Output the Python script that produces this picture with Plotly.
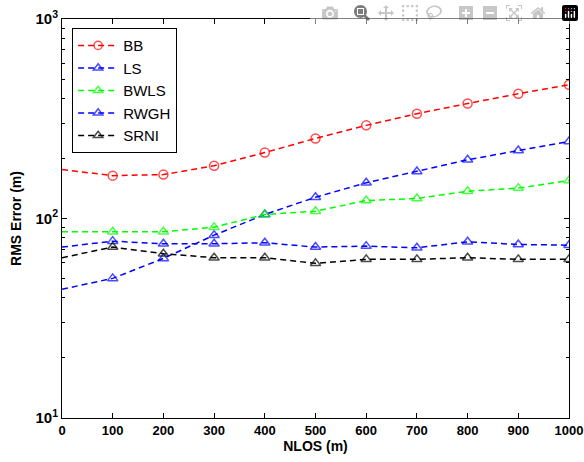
import plotly.graph_objects as go

nlos = [0, 100, 200, 300, 400, 500, 600, 700, 800, 900, 1000]
bb = [176, 164, 166, 184, 214, 252, 293, 335, 377, 422, 468]
ls = [44.2, 50.1, 63.1, 82.5, 104.7, 127.8, 151, 172, 197, 219, 243]
bwls = [85.8, 85.8, 85.8, 90.5, 104.7, 108.8, 123, 126, 137, 142, 155]
rwgh = [71.9, 77, 74.7, 74.7, 75.6, 71.9, 72.7, 71.3, 76.4, 74.1, 73.5]
srni = [63.6, 71.9, 66.6, 63.6, 63.6, 59.6, 62.4, 62.4, 63.6, 62.4, 62.4]

series = [
    ("BB", bb, "#ff0000", "circle-open"),
    ("LS", ls, "#0000ff", "triangle-up-open"),
    ("BWLS", bwls, "#00ff00", "triangle-up-open"),
    ("RWGH", rwgh, "#0000ff", "triangle-up-open"),
    ("SRNI", srni, "#000000", "triangle-up-open"),
]

fig = go.Figure()
for name, vals, col, sym in series:
    fig.add_trace(go.Scatter(
        x=nlos, y=vals, name=name, mode="lines+markers",
        line=dict(color=col, width=1.5, dash="6px,4px"),
        marker=dict(symbol=sym, size=[0] + [9] * (len(nlos) - 1), color=col,
                    line=dict(color=col, width=1.5)),
    ))

font_family = "Liberation Sans, Arial, sans-serif"
fig.update_layout(
    width=584, height=462,
    margin=dict(l=62, r=15, t=19, b=44, autoexpand=False),
    paper_bgcolor="white", plot_bgcolor="white",
    font=dict(family=font_family, color="black", size=13),
    legend=dict(x=0.02, y=0.977, xanchor="left", yanchor="top",
                bgcolor="white", bordercolor="black", borderwidth=1,
                font=dict(size=15, family=font_family),
                tracegroupgap=0, itemwidth=40),
    showlegend=True,
)
fig.update_xaxes(
    range=[0, 1000], tickvals=list(range(0, 1001, 100)),
    ticktext=[f"<b>{v}</b>" for v in range(0, 1001, 100)],
    ticks="inside", ticklen=5, tickcolor="black",
    showline=True, linecolor="black", linewidth=1, mirror="ticks",
    showgrid=False, zeroline=False, automargin=False,
    ticklabeloverflow="allow",
    title=dict(text="<b>NLOS (m)</b>", font=dict(size=14), standoff=3),
    tickfont=dict(size=13),
)
fig.update_yaxes(
    type="log", range=[1, 3],
    tickvals=[10, 100, 1000],
    ticktext=["<b>10<sup>1</sup></b>", "<b>10<sup>2</sup></b>", "<b>10<sup>3</sup></b>"],
    ticks="inside", ticklen=5, tickcolor="black",
    showline=True, linecolor="black", linewidth=1, mirror="ticks",
    showgrid=False, zeroline=False, automargin=False,
    ticklabeloverflow="allow",
    minor=dict(ticks="inside", ticklen=3, tickcolor="black",
               tickvals=[v * m for m in (10, 100) for v in range(2, 10)], showgrid=False),
    title=dict(text="<b>RMS Error (m)</b>", font=dict(size=14), standoff=10),
    tickfont=dict(size=15),
)

fig.write_html("out.html",
               post_script="document.body.style.margin='0';document.body.style.overflow='hidden';")
